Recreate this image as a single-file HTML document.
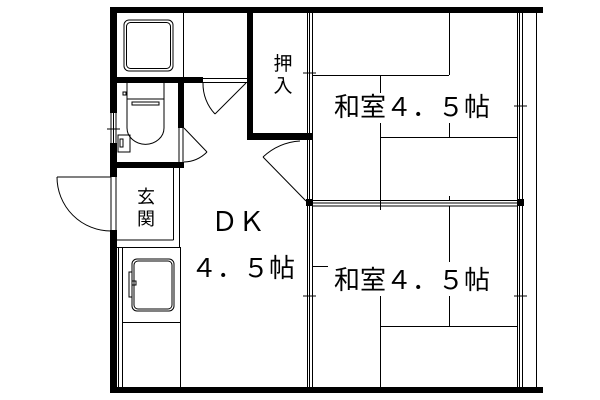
<!DOCTYPE html>
<html><head><meta charset="utf-8"><style>
html,body{margin:0;padding:0;background:#fff;width:600px;height:400px;overflow:hidden}
text{font-family:"Liberation Sans","Noto Sans CJK JP",sans-serif;fill:#000}
</style></head><body>
<svg width="600" height="400" viewBox="0 0 600 400" xmlns="http://www.w3.org/2000/svg">
<g fill="#000">
<rect x="110" y="7" width="433" height="6"/>
<rect x="110" y="387" width="433" height="6"/>
<rect x="110" y="7" width="7" height="106"/>
<rect x="110" y="143" width="7" height="34"/>
<rect x="110" y="230" width="7" height="163"/>
<rect x="117" y="77" width="86" height="6"/>
<rect x="178" y="83" width="6" height="45"/>
<rect x="117" y="162" width="67" height="6"/>
<rect x="247" y="13" width="6" height="127"/>
<rect x="247" y="133" width="66" height="7"/>
<rect x="306" y="199" width="7" height="7"/>
<rect x="517" y="199" width="7" height="7"/>
</g>
<g stroke="#000" fill="none" stroke-width="1">
<line x1="111" y1="113" x2="111" y2="143"/><line x1="113.5" y1="113" x2="113.5" y2="143"/><line x1="116" y1="113" x2="116" y2="143"/>
<line x1="107" y1="129" x2="120" y2="129"/>
<line x1="111" y1="177" x2="111" y2="230"/><line x1="116" y1="177" x2="116" y2="230"/>
<line x1="57" y1="177" x2="111" y2="177"/>
<path d="M57,177 A54,54 0 0 0 111,231"/>
<line x1="183.5" y1="13" x2="183.5" y2="77"/>
<rect x="124" y="20" width="49" height="51" rx="5"/>
<rect x="126.5" y="22.5" width="44" height="46" rx="4"/>
<line x1="203" y1="78.5" x2="247" y2="78.5"/><line x1="203" y1="82.5" x2="247" y2="82.5"/>
<line x1="246" y1="83" x2="215" y2="114"/>
<path d="M203,83 A44,44 0 0 0 215,114"/>
<path d="M127,83 V128 A17,15 0 0 0 164,128 V83"/>
<line x1="127" y1="99" x2="164" y2="99"/>
<rect x="132" y="102" width="27" height="3"/>
<rect x="123" y="92" width="3" height="3"/>
<rect x="118" y="135" width="12" height="17"/><rect x="120" y="139" width="3" height="8"/>
<line x1="179" y1="128" x2="179" y2="162"/><line x1="183" y1="128" x2="183" y2="162"/>
<line x1="184" y1="128" x2="207" y2="152"/>
<path d="M207,152 A34,34 0 0 1 184,162"/>
<line x1="173.5" y1="168" x2="173.5" y2="240"/><line x1="179.5" y1="168" x2="179.5" y2="247"/>
<line x1="117" y1="240" x2="173.5" y2="240"/>
<line x1="117" y1="247.5" x2="180" y2="247.5"/>
<line x1="118.5" y1="247" x2="118.5" y2="387"/><line x1="122.5" y1="247" x2="122.5" y2="387"/>
<line x1="180.5" y1="247" x2="180.5" y2="387"/>
<line x1="122" y1="322.5" x2="180" y2="322.5"/>
<rect x="132" y="259" width="42" height="52" rx="5"/>
<rect x="134" y="261" width="38" height="48" rx="4"/>
<rect x="129" y="272" width="3" height="25"/><rect x="132" y="281" width="4" height="4"/>
<line x1="307.5" y1="13" x2="307.5" y2="387"/><line x1="309.5" y1="13" x2="309.5" y2="387"/><line x1="312.5" y1="13" x2="312.5" y2="387"/>
<line x1="303" y1="73" x2="316" y2="73"/><line x1="303" y1="296" x2="316" y2="296"/>
<line x1="306" y1="201" x2="263" y2="157"/>
<path d="M263,157 A60,60 0 0 1 300,141"/>
<line x1="517.5" y1="13" x2="517.5" y2="387"/><line x1="519.5" y1="13" x2="519.5" y2="387"/><line x1="522.5" y1="13" x2="522.5" y2="387"/>
<line x1="536.5" y1="13" x2="536.5" y2="387"/>
<line x1="514" y1="106" x2="527" y2="106"/><line x1="514" y1="296" x2="527" y2="296"/>
<line x1="313" y1="200.5" x2="517" y2="200.5"/><line x1="313" y1="203" x2="517" y2="203"/><line x1="313" y1="206" x2="517" y2="206"/>
<line x1="313" y1="75.5" x2="449" y2="75.5"/>
<line x1="449.5" y1="13" x2="449.5" y2="75"/>
<line x1="449.5" y1="123" x2="449.5" y2="137"/>
<line x1="380.5" y1="75" x2="380.5" y2="93"/>
<line x1="380.5" y1="123" x2="380.5" y2="210"/>
<line x1="380" y1="137.5" x2="517" y2="137.5"/>
<line x1="449.5" y1="196" x2="449.5" y2="200"/>
<line x1="313" y1="266.5" x2="328" y2="266.5"/>
<line x1="449.5" y1="206" x2="449.5" y2="262"/>
<line x1="449.5" y1="296" x2="449.5" y2="326"/>
<line x1="380.5" y1="296" x2="380.5" y2="387"/>
<line x1="380" y1="326.5" x2="517" y2="326.5"/>
</g>
<text x="283" y="70" font-size="19" text-anchor="middle">押</text>
<text x="283" y="92" font-size="19" text-anchor="middle">入</text>
<text x="146" y="203" font-size="18" text-anchor="middle">玄</text>
<text x="146" y="225" font-size="18" text-anchor="middle">関</text>
<text x="412" y="116" font-size="26" text-anchor="middle">和室４．５帖</text>
<text x="412" y="289" font-size="26" text-anchor="middle">和室４．５帖</text>
<text x="238" y="231" font-size="27" text-anchor="middle">ＤＫ</text>
<text x="243" y="277" font-size="26" text-anchor="middle">４．５帖</text>
</svg>
</body></html>
